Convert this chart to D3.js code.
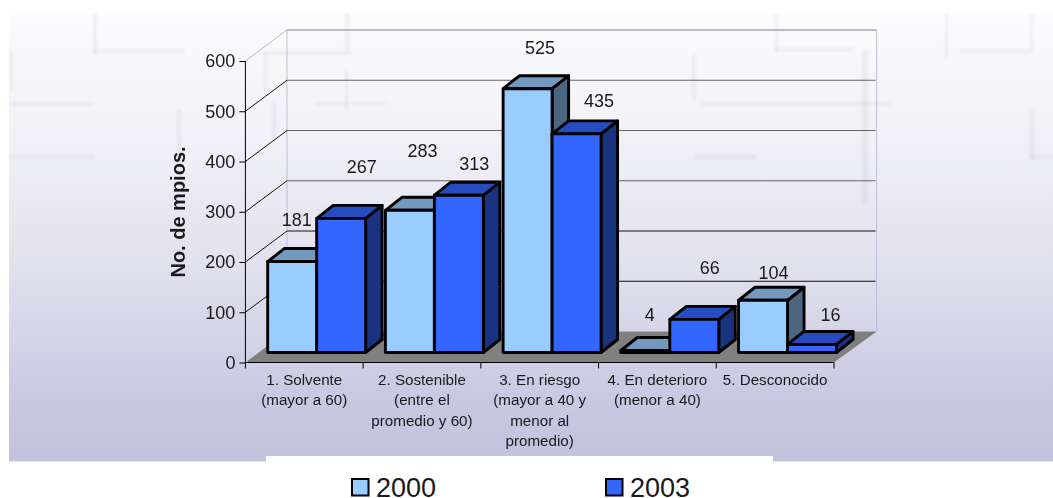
<!DOCTYPE html>
<html><head><meta charset="utf-8">
<script src="https://cdnjs.cloudflare.com/ajax/libs/d3/7.8.5/d3.min.js"></script>
<style>html,body{margin:0;padding:0;background:#fff}svg{display:block}text{font-family:"Liberation Sans",Arial,sans-serif;fill:#1a1a1a}</style>
</head><body><svg id="c" width="1053" height="498"></svg>
<script>
const categories = [
  ["1. Solvente","(mayor a 60)"],
  ["2. Sostenible","(entre el","promedio y 60)"],
  ["3. En riesgo","(mayor a 40 y","menor al","promedio)"],
  ["4. En deterioro","(menor a 40)"],
  ["5. Desconocido"]
];
const values2000 = [181,283,525,4,104];
const values2003 = [267,313,435,66,16];
const yTicks = [0,100,200,300,400,500,600];
const seriesNames = ["2000","2003"];

// hand placement of the value labels as in the picture, relative to each bar
const labelRise = [[42,60,41,36,28],[52,32,33,52,30]];
const labelShift = [[29,37,37,29,35],[45,40,47,40,43]];
// faint blocks of the backdrop texture: x, y, w, h
const faint = [[93,13,4,42],[95,50,90,3],[10,50,3,40],[10,102,85,4],[262,52,90,3],[345,13,4,40],[264,52,3,40],[345,70,3,40],[10,155,85,3],[177,110,4,60],[272,102,4,40],[315,102,70,3],[775,13,3,40],[775,48,80,3],[692,55,4,45],[700,102,190,4],[862,50,6,155],[695,155,60,4],[945,13,3,45],[960,50,70,3],[1030,13,3,40],[1030,110,4,50],[1030,155,23,3]];

const svg = d3.select("#c");
const defs = svg.append("defs");
const g = defs.append("linearGradient").attr("id","bg").attr("x1",0).attr("x2",0).attr("y1",0).attr("y2",1);
[[0,"#fcfcfe"],[0.3,"#f0f0f6"],[0.55,"#e2e1ee"],[0.7,"#d7d6e8"],[0.85,"#c9c9e2"],[1,"#c2c2dd"]].forEach(s=>g.append("stop").attr("offset",s[0]).attr("stop-color",s[1]));
defs.append("filter").attr("id","soft").append("feGaussianBlur").attr("stdDeviation",1.5);

svg.append("rect").attr("x",9).attr("y",13).attr("width",1044).attr("height",448.5).attr("fill","url(#bg)");
svg.append("g").attr("filter","url(#soft)").selectAll("rect").data(faint).join("rect")
  .attr("x",d=>d[0]).attr("y",d=>d[1]).attr("width",d=>d[2]).attr("height",d=>d[3])
  .attr("fill","#8f8fa8").attr("opacity",0.13);
svg.append("rect").attr("x",266).attr("y",456).attr("width",507).attr("height",6).attr("fill","#fff");

const y = d3.scaleLinear().domain([0,600]).range([362.5,61]);
const xBand = d3.scaleBand().domain(d3.range(categories.length)).range([245.4,834]).paddingInner(0.168).paddingOuter(0.084);
const step = xBand.step();
const xEdge = i => 245.4 + i*step;
const DX = 41.6, DY = -31;      // wall depth
const BDX = 16.5, BDY = -13;    // bar depth
const barShift = 12.4, barBase = -10; // bars stand inside the floor
const barW = xBand.bandwidth()/2;

// walls
const x0 = xEdge(0), xN = xEdge(5);
const wall = svg.append("g");
wall.append("path").attr("d",`M${x0+DX},${y(0)+DY}V${y(600)+DY}H${xN+DX+1}V${y(0)+DY}`)
  .attr("fill","none").attr("stroke","#bdbddb").attr("stroke-width",1);
wall.append("path").attr("d",`M${x0},${y(600)}L${x0+DX},${y(600)+DY}`).attr("stroke","#b4b4c8").attr("fill","none");
wall.append("line").attr("x1",x0+DX).attr("x2",xN+DX+1).attr("y1",y(600)+DY).attr("y2",y(600)+DY).attr("stroke","#9a9aaa");
yTicks.filter(t=>t>0&&t<600).forEach(t=>{
  const mid = t>=300;
  wall.append("path").attr("d",`M${x0},${y(t)}L${x0+DX},${y(t)+DY}`).attr("stroke","#111").attr("fill","none");
  wall.append("line").attr("x1",x0+DX).attr("x2",xN+DX).attr("y1",y(t)+DY).attr("y2",y(t)+DY)
    .attr("stroke",mid?"#666":"#111").attr("stroke-width",mid?1.2:1);
});
// floor
wall.append("path").attr("d",`M${x0},${y(0)}L${x0+DX},${y(0)+DY}H${xN+DX+1}L${xN},${y(0)}Z`).attr("fill","#808080");

// bars
const styles = [
  {front:"#99ccff",top:"#7399bf",side:"#4d667f"},
  {front:"#3366ff",top:"#264dbf",side:"#1a3380"}
];
const bars = svg.append("g").attr("stroke","#000").attr("stroke-width",2.9).attr("stroke-linejoin","round");
const base = y(0)+barBase;
const scaleH = v => y(0)-y(v);
const barLeft = (i,s) => xBand(i)+barShift+s*barW;
categories.forEach((_,i)=>{
  [values2000,values2003].forEach((vals,s)=>{
    const l = barLeft(i,s), r = l+barW, t = base-scaleH(vals[i]);
    const st = styles[s];
    bars.append("path").attr("fill",st.side).attr("d",`M${r},${t}L${r+BDX},${t+BDY}V${base+BDY}L${r},${base}Z`);
    bars.append("path").attr("fill",st.top).attr("d",`M${l},${t}L${l+BDX},${t+BDY}H${r+BDX}L${r},${t}Z`);
    bars.append("rect").attr("fill",st.front).attr("x",l).attr("y",t).attr("width",barW).attr("height",base-t);
  });
});

// axes
const yAxis = d3.axisLeft(y).tickValues(yTicks).tickSize(6).tickPadding(4).tickFormat(d3.format("d"));
const ay = svg.append("g").attr("transform",`translate(${x0},0)`).call(yAxis);
ay.selectAll("text").style("font-size","18px").attr("fill","#1a1a1a");
ay.selectAll("line,path").attr("stroke","#000");
ay.select(".domain").attr("d",`M0,${y(600)}V${y(0)}`);
const xa = svg.append("g");
xa.append("line").attr("x1",x0).attr("x2",xN).attr("y1",y(0)).attr("y2",y(0)).attr("stroke","#000");
d3.range(categories.length+1).forEach(i=>xa.append("line").attr("x1",xEdge(i)).attr("x2",xEdge(i)).attr("y1",y(0)).attr("y2",y(0)+6).attr("stroke","#000"));

// category labels
categories.forEach((lines,i)=>{
  const cx = xBand(i)+xBand.bandwidth()/2;
  const t = svg.append("text").attr("text-anchor","middle").style("font-size","15.2px").attr("fill","#222");
  lines.forEach((ln,k)=>t.append("tspan").attr("x",cx).attr("y",385+k*20.3).text(ln));
});

// value labels
[values2000,values2003].forEach((vals,s)=>{
  vals.forEach((v,i)=>{
    svg.append("text").attr("text-anchor","middle").style("font-size","18px")
      .attr("x",barLeft(i,s)+labelShift[s][i]).attr("y",base-scaleH(v)-labelRise[s][i]+6.5).text(v);
  });
});

// axis title
svg.append("text").attr("transform","translate(185,212) rotate(-90)").attr("text-anchor","middle")
  .style("font-size","20px").style("font-weight","bold").attr("fill","#111").text("No. de mpios.");

// legend
const legendX = d3.scaleOrdinal().domain(seriesNames).range([351,605]);
seriesNames.forEach((n,s)=>{
  svg.append("rect").attr("x",legendX(n)+1).attr("y",479).attr("width",16.5).attr("height",16.5)
    .attr("fill",styles[s].front).attr("stroke","#000").attr("stroke-width",2);
  svg.append("text").attr("x",legendX(n)+25).attr("y",496.5).style("font-size","27px").attr("fill","#111").text(n);
});
</script></body></html>
